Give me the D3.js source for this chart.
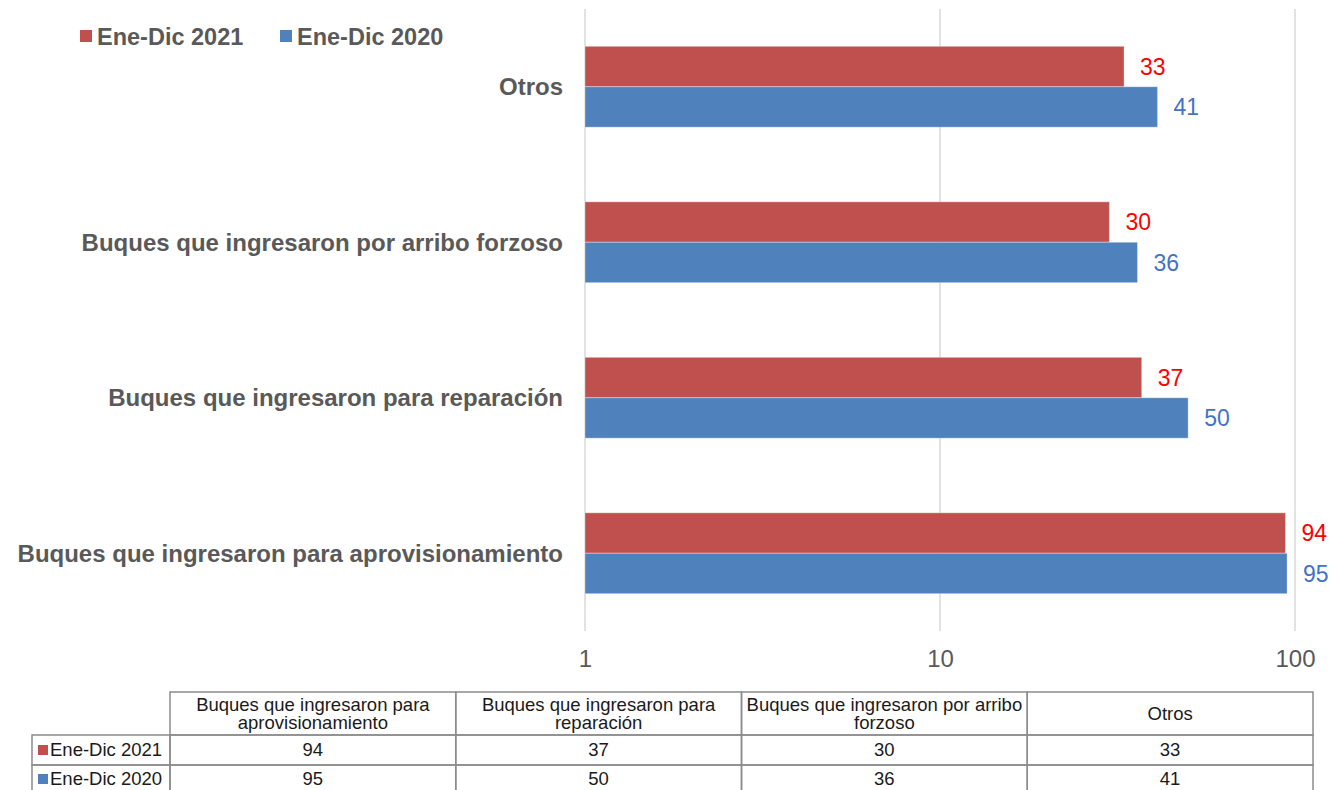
<!DOCTYPE html>
<html>
<head>
<meta charset="utf-8">
<script src="https://cdn.jsdelivr.net/npm/d3@7"></script>
<style>
  body { margin: 0; background: #fff; }
  text { font-family: Arial, "Liberation Sans", sans-serif; }
</style>
</head>
<body>
<svg id="chart" width="1332" height="790"></svg>
<script>
// data
var categories = ["Buques que ingresaron para aprovisionamiento",
                  "Buques que ingresaron para reparación",
                  "Buques que ingresaron por arribo forzoso",
                  "Otros"];
var seriesNames = ["Ene-Dic 2021", "Ene-Dic 2020"];
var values2021 = [94, 37, 30, 33];
var values2020 = [95, 50, 36, 41];
var tickValues = [1, 10, 100];

var barColors = ["#C0504D", "#4F81BD"];
var labelColors = ["#FF0000", "#4472C4"];
var grey = "#595959";

var series = [values2021, values2020];

var svg = d3.select("#chart");

// plot area
var plotLeft = 585, plotRight = 1295, plotTop = 9, plotBottom = 631;

var x = d3.scaleLog().domain([1, 100]).range([plotLeft, plotRight]);
var y = d3.scaleBand()
    .domain(categories.slice().reverse())
    .range([plotTop, plotBottom])
    .paddingInner(0.48)
    .paddingOuter(0.24);
var ySub = d3.scaleBand().domain([0, 1]).range([0, y.bandwidth()]);

// gridlines
svg.append("g").selectAll("line")
    .data(tickValues)
    .join("line")
    .attr("x1", d => x(d)).attr("x2", d => x(d))
    .attr("y1", plotTop).attr("y2", plotBottom)
    .attr("stroke", "#D9D9D9")
    .attr("stroke-width", 1.5);

// x axis labels
var xAxis = svg.append("g")
    .attr("transform", "translate(0," + (plotBottom + 19) + ")")
    .call(d3.axisBottom(x).tickValues(tickValues).tickFormat(d3.format("d")).tickSize(0).tickPadding(0));
xAxis.select(".domain").remove();
xAxis.selectAll("text")
    .attr("font-size", 24)
    .attr("fill", grey)
    .attr("font-family", "Arial, 'Liberation Sans', sans-serif");

// category labels
svg.append("g").selectAll("text")
    .data(categories)
    .join("text")
    .attr("x", 563)
    .attr("y", d => y(d) + y.bandwidth() / 2)
    .attr("dy", "0.35em")
    .attr("text-anchor", "end")
    .attr("font-size", 24)
    .attr("font-weight", "bold")
    .attr("fill", grey)
    .text(d => d);

// bars + labels
series.forEach(function (vals, si) {
    var g = svg.append("g");
    g.selectAll("rect")
        .data(vals)
        .join("rect")
        .attr("x", x(1))
        .attr("y", (d, i) => y(categories[i]) + ySub(si))
        .attr("width", d => x(d) - x(1))
        .attr("height", ySub.bandwidth())
        .attr("fill", barColors[si])
        .attr("stroke", "rgba(255,255,255,0.35)")
        .attr("stroke-width", 1);
    g.selectAll("text")
        .data(vals)
        .join("text")
        .attr("x", d => x(d) + 16)
        .attr("y", (d, i) => y(categories[i]) + ySub(si) + ySub.bandwidth() / 2)
        .attr("dy", "0.36em")
        .attr("font-size", 23)
        .attr("fill", labelColors[si])
        .text(d => d);
});

// legend
var legendX = [80, 280];
seriesNames.forEach(function (name, i) {
    svg.append("rect")
        .attr("x", legendX[i]).attr("y", 30)
        .attr("width", 12).attr("height", 12)
        .attr("fill", barColors[i]);
    svg.append("text")
        .attr("x", legendX[i] + 17).attr("y", 45)
        .attr("font-size", 23.5)
        .attr("font-weight", "bold")
        .attr("fill", grey)
        .text(name);
});

// data table
var tLeft = 32, tLabelW = 138, colW = 285.75;
var rowTops = [692, 735, 765, 793];
var border = "#8C8C8C";
var tSize = 18.5;
var table = svg.append("g");

function wrapLines(str, maxW, size) {
    var tmp = svg.append("text").attr("font-size", size);
    var words = str.split(" "), lines = [], line = [];
    words.forEach(function (w) {
        line.push(w);
        tmp.text(line.join(" "));
        if (tmp.node().getComputedTextLength() > maxW && line.length > 1) {
            line.pop();
            lines.push(line.join(" "));
            line = [w];
        }
    });
    lines.push(line.join(" "));
    tmp.remove();
    return lines;
}

// header cells
categories.forEach(function (c, i) {
    var cx = tLeft + tLabelW + i * colW;
    table.append("rect")
        .attr("x", cx).attr("y", rowTops[0])
        .attr("width", colW).attr("height", rowTops[1] - rowTops[0])
        .attr("fill", "none").attr("stroke", border).attr("stroke-width", 1.5);
    var lines = wrapLines(c, colW - 2, tSize);
    var mid = (rowTops[0] + rowTops[1]) / 2;
    var t = table.append("text")
        .attr("text-anchor", "middle")
        .attr("font-size", tSize)
        .attr("fill", "#1a1a1a");
    lines.forEach(function (l, li) {
        t.append("tspan")
            .attr("x", cx + colW / 2)
            .attr("y", mid + (li - (lines.length - 1) / 2) * 18.5)
            .attr("dy", "0.35em")
            .text(l);
    });
});

// value rows
series.forEach(function (vals, si) {
    var ry = rowTops[si + 1], rh = rowTops[si + 2] - rowTops[si + 1];
    table.append("rect")
        .attr("x", tLeft).attr("y", ry)
        .attr("width", tLabelW).attr("height", rh)
        .attr("fill", "none").attr("stroke", border).attr("stroke-width", 1.5);
    table.append("rect")
        .attr("x", tLeft + 6).attr("y", ry + rh / 2 - 5)
        .attr("width", 10).attr("height", 10)
        .attr("fill", barColors[si]);
    table.append("text")
        .attr("x", tLeft + 18).attr("y", ry + rh / 2)
        .attr("dy", "0.35em")
        .attr("font-size", tSize)
        .attr("fill", "#1a1a1a")
        .text(seriesNames[si]);
    vals.forEach(function (v, i) {
        var cx = tLeft + tLabelW + i * colW;
        table.append("rect")
            .attr("x", cx).attr("y", ry)
            .attr("width", colW).attr("height", rh)
            .attr("fill", "none").attr("stroke", border).attr("stroke-width", 1.5);
        table.append("text")
            .attr("x", cx + colW / 2).attr("y", ry + rh / 2)
            .attr("dy", "0.35em")
            .attr("text-anchor", "middle")
            .attr("font-size", tSize)
            .attr("fill", "#1a1a1a")
            .text(v);
    });
});
</script>
</body>
</html>
